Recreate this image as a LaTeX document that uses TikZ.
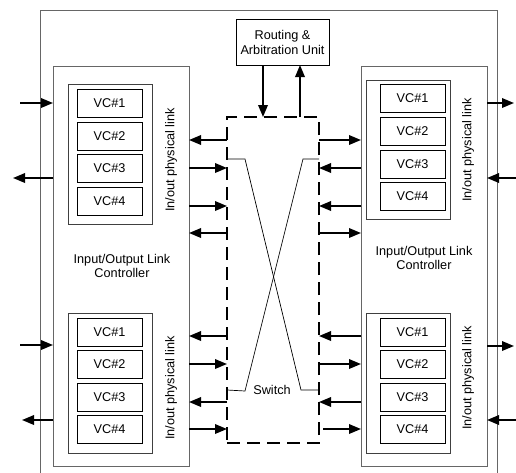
\documentclass[tikz,border=0pt]{standalone}
\usepackage{fontspec}
\setmainfont{Liberation Sans}
\usetikzlibrary{arrows.meta}
\begin{document}
\begin{tikzpicture}[x=1pt,y=-1pt,
  font=\fontsize{12.7}{14.5}\selectfont,
  thinbox/.style={draw, line width=0.8pt, inner sep=0pt, outer sep=0pt, anchor=north west},
  graybox/.style={thinbox, draw=black!60},
  vcbox/.style={thinbox, minimum width=65pt, minimum height=28pt},
  grpbox/.style={thinbox, draw=black!75, minimum width=84pt, minimum height=140pt},
  arr/.style={line width=1.8pt, -{Triangle[length=12pt,width=9.5pt]}},
  crossline/.style={line width=0.7pt},
  vlabel/.style={rotate=90, inner sep=0pt}]
\useasboundingbox (0,0) rectangle (516,472);
% outer box
\node[graybox, minimum width=457pt, minimum height=475pt] (outer) at (40,10) {};
% link controllers
\node[graybox, minimum width=136pt, minimum height=400pt] (ilcL) at (53,66) {};
\node[graybox, minimum width=126pt, minimum height=400pt] (ilcR) at (361,66) {};
% VC groups
\node[grpbox] (gLU) at (68,84) {};
\node[grpbox] (gLD) at (68,313) {};
\node[grpbox, minimum height=139pt] (gRU) at (366,80) {};
\node[grpbox] (gRD) at (366,313) {};
% VC boxes
\node[vcbox] (lu1) at (77,89) {VC\#1};
\node[vcbox] (lu2) at (77,122) {VC\#2};
\node[vcbox] (lu3) at (77,154) {VC\#3};
\node[vcbox] (lu4) at (77,187) {VC\#4};
\node[vcbox] (ld1) at (77,318) {VC\#1};
\node[vcbox] (ld2) at (77,350) {VC\#2};
\node[vcbox] (ld3) at (77,383) {VC\#3};
\node[vcbox] (ld4) at (77,415) {VC\#4};
\node[vcbox] (ru1) at (380,84) {VC\#1};
\node[vcbox] (ru2) at (380,117) {VC\#2};
\node[vcbox] (ru3) at (380,150) {VC\#3};
\node[vcbox] (ru4) at (380,182) {VC\#4};
\node[vcbox] (rd1) at (380,318) {VC\#1};
\node[vcbox] (rd2) at (380,350) {VC\#2};
\node[vcbox] (rd3) at (380,383) {VC\#3};
\node[vcbox] (rd4) at (380,415) {VC\#4};
% labels
\node[vlabel] (tLU) at (171,160) {In/out physical link};
\node[vlabel] (tLD) at (171,388) {In/out physical link};
\node[vlabel] (tRU) at (468,150) {In/out physical link};
\node[vlabel] (tRD) at (468,378) {In/out physical link};
\node[align=center, inner sep=0pt] (cL) at (122,266) {Input/Output Link\\Controller};
\node[align=center, inner sep=0pt] (cR) at (424,258) {Input/Output Link\\Controller};
% routing unit
\node[thinbox, minimum width=93pt, minimum height=46pt, align=center, font=\fontsize{12.7}{15}\selectfont] (rau) at (236,19) {Routing \&\\Arbitration Unit};
% switch
\node[draw, line width=2pt, dash pattern=on 13pt off 7pt, inner sep=0pt, outer sep=0pt,
      minimum width=92pt, minimum height=326pt, anchor=north west] (sw) at (227,117) {};
\node[inner sep=0pt] (swl) at (272,390) {Switch};
% y levels
\foreach \n/\v in {a/140,b/168,c/206,d/233,e/336,f/364,g/402,h/429,
                   p/103,q/178,s/345,t/420,k/159,m/390}
  \coordinate (y\n) at (0,\v);
\coordinate (xd) at (263,0);
\coordinate (xu) at (300,0);
% crossing lines
\draw[crossline] (sw.west |- yk) -- (245,159) -- (301,390) -- (sw.east |- ym);
\draw[crossline] (sw.east |- yk) -- (303,159) -- (245,391) -- (sw.west |- ym);
% routing arrows
\draw[arr] (rau.south -| xd) -- (sw.north -| xd);
\draw[arr] (sw.north -| xu) -- (rau.south -| xu);
% left inner arrows
\draw[arr] (sw.west |- ya) -- (ilcL.east |- ya);
\draw[arr] (ilcL.east |- yb) -- (sw.west |- yb);
\draw[arr] (ilcL.east |- yc) -- (sw.west |- yc);
\draw[arr] (sw.west |- yd) -- (ilcL.east |- yd);
\draw[arr] (sw.west |- ye) -- (ilcL.east |- ye);
\draw[arr] (ilcL.east |- yf) -- (sw.west |- yf);
\draw[arr] (sw.west |- yg) -- (ilcL.east |- yg);
\draw[arr] (ilcL.east |- yh) -- (sw.west |- yh);
% right inner arrows
\draw[arr] (sw.east |- ya) -- (ilcR.west |- ya);
\draw[arr] (ilcR.west |- yb) -- (sw.east |- yb);
\draw[arr] (ilcR.west |- yc) -- (sw.east |- yc);
\draw[arr] (sw.east |- yd) -- (ilcR.west |- yd);
\draw[arr] (ilcR.west |- ye) -- (sw.east |- ye);
\draw[arr] (sw.east |- yf) -- (ilcR.west |- yf);
\draw[arr] (ilcR.west |- yg) -- (sw.east |- yg);
\draw[arr] ([xshift=4pt]sw.east |- yh) -- (ilcR.west |- yh);
% external arrows
\coordinate (el1) at (20,103);
\coordinate (el2) at (13,178);
\coordinate (el3) at (20,345);
\coordinate (el4) at (22,420);
\coordinate (er1) at (514,103);
\coordinate (er2) at (518,178);
\coordinate (er3) at (514,346);
\coordinate (er4) at (518,420);
\draw[arr] (el1) -- (ilcL.west |- el1);
\draw[arr] (ilcL.west |- el2) -- (el2);
\draw[arr] (el3) -- (ilcL.west |- el3);
\draw[arr] (ilcL.west |- el4) -- (el4);
\draw[arr] (ilcR.east |- er1) -- (er1);
\draw[arr] (er2) -- (ilcR.east |- er2);
\draw[arr] (ilcR.east |- er3) -- (er3);
\draw[arr] (er4) -- (ilcR.east |- er4);
\end{tikzpicture}
\end{document}
